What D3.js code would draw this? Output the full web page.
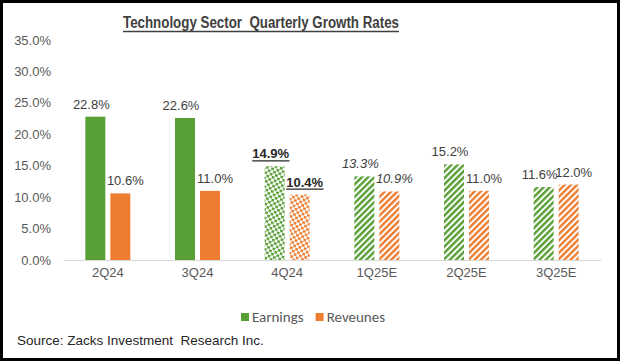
<!DOCTYPE html>
<html>
<head>
<meta charset="utf-8">
<script src="https://cdn.jsdelivr.net/npm/d3@7"></script>
<style>
  html, body { margin: 0; padding: 0; background: #fff; }
  svg { display: block; }
  text { white-space: pre; }
</style>
</head>
<body>
<svg id="chart" width="620" height="361"></svg>
<script>
// ---- data ----
const categories = ["2Q24", "3Q24", "4Q24", "1Q25E", "2Q25E", "3Q25E"];
const earnings = [22.8, 22.6, 14.9, 13.3, 15.2, 11.6];
const revenues = [10.6, 11.0, 10.4, 10.9, 11.0, 12.0];
const yTicks = [0, 5, 10, 15, 20, 25, 30, 35];
const fillKind = ["solid", "solid", "dots", "stripes", "stripes", "stripes"];
const labelKind = ["normal", "normal", "boldline", "italic", "normal", "normal"];
const seriesNames = ["Earnings", "Reveunes"];

const colors = { Earnings: "#58a036", Reveunes: "#ed7d31" };
const W = 620, H = 361;
const svg = d3.select("#chart");
const font = "'Liberation Sans', Arial, sans-serif";

// patterns
const defs = svg.append("defs");
seriesNames.forEach(s => {
  const key = s.toLowerCase();
  const st = defs.append("pattern").attr("id", "stripes-" + key)
    .attr("patternUnits", "userSpaceOnUse").attr("width", 4.4).attr("height", 4.4)
    .attr("patternTransform", "rotate(45)");
  st.append("rect").attr("width", 4.4).attr("height", 4.4).attr("fill", "#fff");
  st.append("rect").attr("width", 2.4).attr("height", 4.4).attr("fill", colors[s]);

  const dt = defs.append("pattern").attr("id", "dots-" + key)
    .attr("patternUnits", "userSpaceOnUse").attr("width", 5.5).attr("height", 5.5)
    .attr("patternTransform", "rotate(15)");
  dt.append("rect").attr("width", 5.5).attr("height", 5.5).attr("fill", "#fff");
  dt.append("rect").attr("x", 0).attr("y", 0).attr("width", 2.8).attr("height", 2.5).attr("fill", colors[s]);
  dt.append("rect").attr("x", 2.75).attr("y", 2.75).attr("width", 2.8).attr("height", 2.5).attr("fill", colors[s]);
});

// scales
const x = d3.scaleBand().domain(categories).range([63, 601]).paddingInner(0).paddingOuter(0);
const bw = x.bandwidth();
const inner = d3.scaleBand().domain(seriesNames).range([0, bw])
  .paddingInner(0.2).paddingOuter((bw / 25 - 1.8) / 2);
const y = d3.scaleLinear().domain([0, 35]).range([260, 40]);

// border
svg.append("rect").attr("x", 1.5).attr("y", 1.5).attr("width", W - 3).attr("height", H - 3)
  .attr("fill", "#fff").attr("stroke", "#000").attr("stroke-width", 3);

// title
svg.append("text").attr("x", 123).attr("y", 27.5)
  .attr("font-family", font).attr("font-weight", "bold").attr("font-size", 16)
  .attr("fill", "#404040").attr("textLength", 276).attr("lengthAdjust", "spacingAndGlyphs")
  .text("Technology Sector  Quarterly Growth Rates");
svg.append("line").attr("x1", 123).attr("x2", 399).attr("y1", 31.5).attr("y2", 31.5)
  .attr("stroke", "#404040").attr("stroke-width", 1.4);

// y axis labels
svg.append("g").selectAll("text").data(yTicks).join("text")
  .attr("x", 51).attr("y", d => y(d)).attr("dy", "0.35em")
  .attr("text-anchor", "end").attr("font-family", font).attr("font-size", 13)
  .attr("fill", "#595959").text(d => d.toFixed(1) + "%");

// x axis
const xAxis = svg.append("g").attr("transform", `translate(0,${y(0)})`)
  .call(d3.axisBottom(x).tickSize(0).tickPadding(8));
xAxis.select(".domain").attr("stroke", "#d9d9d9").attr("stroke-width", 1.2);
xAxis.selectAll("text").attr("font-family", font).attr("font-size", 13).attr("fill", "#595959");

// bars
const rows = categories.map((c, i) => ({ c, i, vals: [
  { s: "Earnings", v: earnings[i] }, { s: "Reveunes", v: revenues[i] }] }));

const groups = svg.append("g").selectAll("g").data(rows).join("g")
  .attr("transform", d => `translate(${x(d.c)},0)`);

function fillFor(s, kind) {
  if (kind === "solid") return colors[s];
  return `url(#${kind}-${s.toLowerCase()})`;
}

groups.selectAll("rect").data(d => d.vals.map(v => ({ ...v, i: d.i }))).join("rect")
  .attr("x", d => inner(d.s)).attr("width", inner.bandwidth())
  .attr("y", d => y(d.v)).attr("height", d => y(0) - y(d.v))
  .attr("fill", d => fillFor(d.s, fillKind[d.i]));

// value labels
groups.each(function (d) {
  const g = d3.select(this);
  d.vals.forEach(v => {
    const kind = labelKind[d.i];
    const dx = v.s === "Earnings" ? -4 : 5;
    const cx = inner(v.s) + inner.bandwidth() / 2 + dx;
    const ty = y(v.v) - 8;
    const t = g.append("text").attr("x", cx).attr("y", ty)
      .attr("text-anchor", "middle").attr("font-family", font).attr("font-size", 13)
      .attr("fill", kind === "boldline" ? "#262626" : "#404040")
      .attr("font-weight", kind === "boldline" ? "bold" : "normal")
      .attr("font-style", kind === "italic" ? "italic" : "normal")
      .text(v.v.toFixed(1) + "%");
    if (kind === "boldline") {
      const bb = t.node().getBBox();
      g.append("line").attr("x1", bb.x).attr("x2", bb.x + bb.width)
        .attr("y1", ty + 2.5).attr("y2", ty + 2.5).attr("stroke", "#262626").attr("stroke-width", 1.3);
    }
  });
});

// legend
const legendFont = "Carlito, Lato, 'Open Sans', sans-serif";
const legend = svg.append("g").attr("transform", "translate(241,313)");
let lx = 0;
seriesNames.forEach(s => {
  const lg = legend.append("g").attr("transform", `translate(${lx},0)`);
  lg.append("rect").attr("width", 8).attr("height", 8).attr("fill", colors[s]);
  const t = lg.append("text").attr("x", 11).attr("y", 4).attr("dy", "0.36em")
    .attr("font-family", legendFont).attr("font-size", 15).attr("fill", "#595959").text(s);
  lx += 11 + t.node().getComputedTextLength() + 12;
});

// source
svg.append("text").attr("x", 17).attr("y", 345)
  .attr("font-family", font).attr("font-size", 13.5).attr("fill", "#262626")
  .text("Source: Zacks Investment  Research Inc.");
</script>
</body>
</html>
